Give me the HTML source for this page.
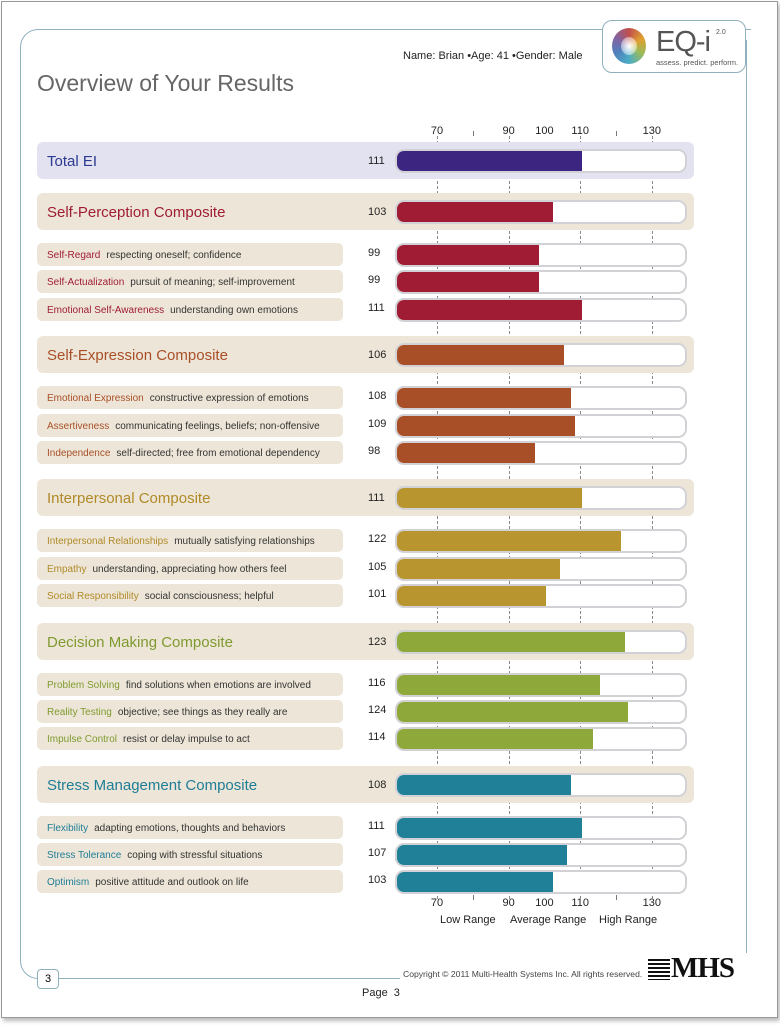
<!DOCTYPE html>
<html><head><meta charset="utf-8">
<style>
body{margin:0;width:780px;height:1027px;background:#fff;position:relative;overflow:hidden;font-family:"Liberation Sans",Arial,sans-serif;}
.a{position:absolute;}
.page{left:1px;top:1px;width:775px;height:1015px;border:1px solid #999;box-shadow:2px 3px 4px #bbb;}
.panel{position:absolute;left:37px;width:657px;height:37px;border-radius:6px;}
.ptitle{position:absolute;left:10px;top:11px;font-size:15px;}
.sub{position:absolute;left:37px;width:306px;height:23px;border-radius:5px;background:#ede6d8;font-size:10px;color:#333;line-height:25px;white-space:nowrap;}
.sub b{font-weight:normal;margin-left:10px;margin-right:6px;}
.val{position:absolute;font-size:11px;color:#222;}
.bar{position:absolute;left:395px;width:292px;border:2px solid #d2d2d6;border-radius:9px;background:#fff;overflow:hidden;box-sizing:border-box;}
.fill{position:absolute;left:0;top:0;bottom:0;}
.tick{position:absolute;width:0;border-left:1px dashed #777;}
.tl{position:absolute;font-size:11px;color:#222;transform:translateX(-50%);}
</style></head><body>
<div class="a page"></div>
<div class="a" style="left:20px;top:29px;width:730px;height:948px;border-left:1.5px solid #8fb0bd;border-top:1.5px solid #8fb0bd;border-bottom:1.5px solid #8fb0bd;border-top-left-radius:18px;border-bottom-left-radius:18px;"></div>
<div class="a" style="left:746px;top:40px;height:913px;border-left:1.5px solid #8fb0bd;"></div>
<div class="a" style="left:400px;top:960px;width:360px;height:30px;background:#fff;"></div>
<div class="a" style="left:602px;top:20px;width:142px;height:51px;border:1.5px solid #8fb0bd;border-radius:10px;background:#fff;"></div>
<div class="a" style="left:612px;top:28px;width:34px;height:36px;border-radius:50%;background:conic-gradient(#c0504d,#e0a030,#9bbb59,#4bacc6,#4f81bd,#8064a2,#c0504d);"></div>
<div class="a" style="left:621px;top:37px;width:16px;height:18px;border-radius:50%;background:radial-gradient(#fff,rgba(255,255,255,0.2));"></div>
<div class="a" style="left:656px;top:26px;font-size:29px;color:#555;letter-spacing:-1px;">EQ-i</div>
<div class="a" style="left:716px;top:29px;font-size:7px;color:#555;">2.0</div>
<div class="a" style="left:656px;top:58px;font-size:7.5px;color:#555;">assess. predict. perform.</div>
<div class="a" style="left:403px;top:50px;font-size:11px;color:#222;">Name: Brian •Age: 41 •Gender: Male</div>
<div class="a" style="left:37px;top:70px;font-size:23px;color:#666;">Overview of Your Results</div>
<div id="c"></div>
<div class="a" style="left:440px;top:914px;font-size:11px;color:#222;">Low Range</div>
<div class="a" style="left:510px;top:914px;font-size:11px;color:#222;">Average Range</div>
<div class="a" style="left:599px;top:914px;font-size:11px;color:#222;">High Range</div>
<div class="a" style="left:37px;top:969px;width:20px;height:18px;border:1.5px solid #8fb0bd;border-radius:4px;background:#fff;font-size:11px;text-align:center;line-height:18px;">3</div>
<div class="a" style="left:403px;top:969px;font-size:8.6px;color:#444;">Copyright © 2011 Multi-Health Systems Inc. All rights reserved.</div>
<div class="a" style="left:648px;top:959px;width:22px;height:21px;background:repeating-linear-gradient(#111 0 2px,#fff 2px 4px);"></div>
<div class="a" style="left:671px;top:952px;font-size:29px;font-weight:bold;font-family:'Liberation Serif',serif;color:#111;letter-spacing:-1px;">MHS</div>
<div class="a" style="left:362px;top:987px;font-size:11px;color:#222;">Page&nbsp; 3</div>
<script>
const X=v=>437+(v-70)*3.58;
let h='';
const add=s=>h+=s;
[70,90,100,110,130].forEach(v=>{add(`<div class="tl" style="left:${X(v)}px;top:125px">${v}</div>`);add(`<div class="tl" style="left:${X(v)}px;top:897px">${v}</div>`);});
[80,120].forEach(v=>{add(`<div class="tick" style="left:${X(v)}px;top:131px;height:5px"></div>`);add(`<div class="tick" style="left:${X(v)}px;top:895px;height:5px"></div>`);});
[70,90,110,130].forEach(v=>add(`<div class="tick" style="left:${X(v)}px;top:136px;height:763px;border-left:1px dashed #888"></div>`));
function bar(y,hgt,v,col){add(`<div class="bar" style="top:${y}px;height:${hgt}px"><div class="fill" style="width:${X(v)-399}px;background:${col}"></div></div>`);}
add(`<div class="panel" style="top:142px;background:#e3e2f0"><div class="ptitle" style="color:#2b3990">Total EI</div></div>`);
add(`<div class="val" style="left:368px;top:155px">111</div>`);bar(149,24,111,'#3b2580');
const G=[
['Self-Perception Composite',103,'#a01c34','#a01c34',[['Self-Regard','respecting oneself; confidence',99],['Self-Actualization','pursuit of meaning; self-improvement',99],['Emotional Self-Awareness','understanding own emotions',111]]],
['Self-Expression Composite',106,'#a84f27','#a84f27',[['Emotional Expression','constructive expression of emotions',108],['Assertiveness','communicating feelings, beliefs; non-offensive',109],['Independence','self-directed; free from emotional dependency',98]]],
['Interpersonal Composite',111,'#b8952f','#b08a28',[['Interpersonal Relationships','mutually satisfying relationships',122],['Empathy','understanding, appreciating how others feel',105],['Social Responsibility','social consciousness; helpful',101]]],
['Decision Making Composite',123,'#8fa83a','#7f9a2e',[['Problem Solving','find solutions when emotions are involved',116],['Reality Testing','objective; see things as they really are',124],['Impulse Control','resist or delay impulse to act',114]]],
['Stress Management Composite',108,'#1f8098','#1f7d96',[['Flexibility','adapting emotions, thoughts and behaviors',111],['Stress Tolerance','coping with stressful situations',107],['Optimism','positive attitude and outlook on life',103]]]];
G.forEach((g,i)=>{const y=193+i*143.2;
add(`<div class="panel" style="top:${y}px;background:#ede6d8"><div class="ptitle" style="color:${g[3]}">${g[0]}</div></div>`);
add(`<div class="val" style="left:368px;top:${y+13}px">${g[1]}</div>`);bar(y+7,24,g[1],g[2]);
g[4].forEach((s,j)=>{const sy=y+50+j*27.3;
add(`<div class="sub" style="top:${sy}px"><b style="color:${g[3]}">${s[0]}</b>${s[1]}</div>`);
add(`<div class="val" style="left:368px;top:${sy+4}px">${s[2]}</div>`);bar(sy,24,s[2],g[2]);});
});
document.getElementById('c').innerHTML=h;
</script>
</body></html>
